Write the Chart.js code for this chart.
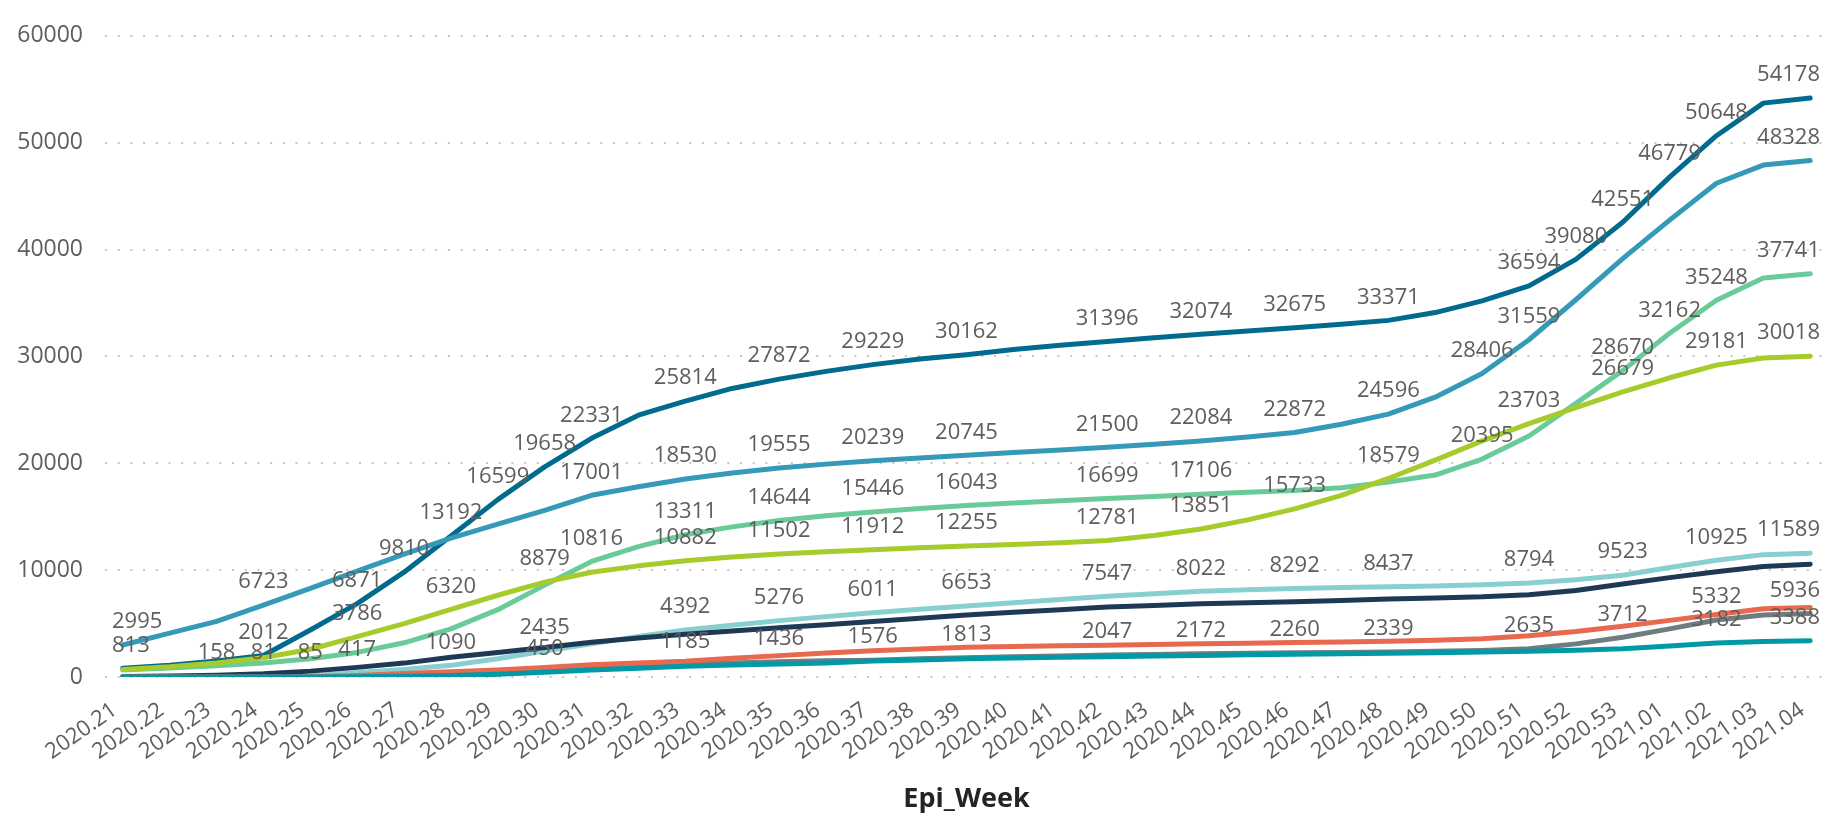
<!DOCTYPE html>
<html>
<head>
<meta charset="utf-8">
<title>Epi_Week</title>
<script src="https://cdn.jsdelivr.net/npm/chart.js@4.4.0/dist/chart.umd.min.js"></script>
<style>
  html, body { margin: 0; padding: 0; background: #fff; }
</style>
</head>
<body>
<canvas id="chart" width="1839" height="818"></canvas>
<script>
// ── Dados ──
const weeks = [
  '2020.21','2020.22','2020.23','2020.24','2020.25','2020.26','2020.27','2020.28','2020.29','2020.30',
  '2020.31','2020.32','2020.33','2020.34','2020.35','2020.36','2020.37','2020.38','2020.39','2020.40',
  '2020.41','2020.42','2020.43','2020.44','2020.45','2020.46','2020.47','2020.48','2020.49','2020.50',
  '2020.51','2020.52','2020.53','2021.01','2021.02','2021.03','2021.04'
];

const darkTeal = [813, 1100, 1500, 2012, 4400, 6871, 9810, 13192, 16599, 19658, 22331, 24500, 25814, 27000, 27872, 28600, 29229, 29750, 30162, 30650, 31050, 31396, 31750, 32074, 32380, 32675, 33000, 33371, 34100, 35200, 36594, 39080, 42551, 46779, 50648, 53700, 54178];
const blue     = [2995, 4100, 5200, 6723, 8300, 9900, 11500, 13000, 14300, 15600, 17001, 17800, 18530, 19080, 19555, 19920, 20239, 20500, 20745, 21000, 21250, 21500, 21780, 22084, 22450, 22872, 23650, 24596, 26180, 28406, 31559, 35300, 39150, 42750, 46200, 47900, 48328];
const green    = [650, 850, 1050, 1300, 1700, 2300, 3200, 4500, 6300, 8600, 10816, 12200, 13311, 14050, 14644, 15080, 15446, 15760, 16043, 16280, 16500, 16699, 16900, 17106, 17290, 17450, 17700, 18250, 18900, 20395, 22550, 25600, 28670, 32162, 35248, 37340, 37741];
const lime     = [700, 950, 1300, 1800, 2600, 3786, 5000, 6320, 7650, 8879, 9800, 10400, 10882, 11220, 11502, 11720, 11912, 12090, 12255, 12400, 12560, 12781, 13250, 13851, 14700, 15733, 17000, 18579, 20300, 22100, 23703, 25200, 26679, 28000, 29181, 29850, 30018];
const cyan     = [0, 20, 50, 81, 85, 417, 700, 1090, 1700, 2435, 3100, 3800, 4392, 4850, 5276, 5650, 6011, 6350, 6653, 6950, 7250, 7547, 7800, 8022, 8170, 8292, 8370, 8437, 8520, 8630, 8794, 9100, 9523, 10250, 10925, 11450, 11589];
const navy     = [50, 100, 158, 300, 550, 900, 1300, 1850, 2300, 2750, 3250, 3650, 4000, 4300, 4600, 4900, 5200, 5500, 5800, 6050, 6300, 6550, 6700, 6850, 6950, 7050, 7150, 7300, 7400, 7500, 7700, 8100, 8700, 9300, 9850, 10350, 10550];
const red      = [0, 0, 5, 10, 30, 150, 330, 480, 650, 900, 1150, 1320, 1480, 1750, 2000, 2250, 2450, 2620, 2780, 2850, 2920, 2980, 3040, 3100, 3160, 3220, 3280, 3340, 3430, 3580, 3850, 4250, 4750, 5300, 5850, 6380, 6514];
const gray     = [0, 0, 0, 5, 10, 25, 70, 160, 300, 520, 750, 980, 1185, 1320, 1436, 1510, 1576, 1700, 1813, 1890, 1970, 2047, 2110, 2172, 2220, 2260, 2300, 2339, 2400, 2480, 2635, 3100, 3712, 4500, 5332, 5800, 5936];
const teal     = [0, 0, 0, 5, 10, 20, 60, 130, 250, 450, 650, 830, 1000, 1120, 1220, 1320, 1500, 1600, 1700, 1770, 1840, 1900, 1960, 2020, 2080, 2130, 2180, 2230, 2280, 2330, 2400, 2500, 2650, 2900, 3182, 3330, 3388];

// pontos com rótulo visível (índice da semana)
const darkTealLabels = [0, 3, 5, 6, 7, 8, 9, 10, 12, 14, 16, 18, 21, 23, 25, 27, 30, 31, 32, 33, 34, 36];
const blueLabels     = [0, 3, 10, 12, 14, 16, 18, 21, 23, 25, 27, 29, 30, 36];
const greenLabels    = [10, 12, 14, 16, 18, 21, 23, 29, 32, 33, 34, 36];
const limeLabels     = [5, 7, 9, 12, 14, 16, 18, 21, 23, 25, 27, 30, 32, 34, 36];
const cyanLabels     = [3, 4, 5, 7, 9, 12, 14, 16, 18, 21, 23, 25, 27, 30, 32, 34, 36];
const navyLabels     = [2];
const redLabels      = [];
const grayLabels     = [12, 14, 16, 18, 21, 23, 25, 27, 30, 32, 34, 36];
const tealLabels     = [9, 34, 36];

const TEXT = '#605E5C';
const FONT = '"Open Sans", "Noto Sans", sans-serif';

function serie(values, color, labelAt) {
  return {
    data: values.map((v, i) => ({ x: i, y: v })),
    borderColor: color,
    backgroundColor: color,
    borderWidth: 5,
    borderCapStyle: 'round',
    borderJoinStyle: 'round',
    pointRadius: 0,
    tension: 0,
    labelAt,
  };
}

// ── Rótulos de dados ──
const valueLabels = {
  id: 'valueLabels',
  afterDatasetsDraw(chart) {
    const { ctx, chartArea } = chart;
    ctx.save();
    ctx.font = '22px ' + FONT;
    ctx.fillStyle = TEXT;
    ctx.textAlign = 'center';
    ctx.textBaseline = 'middle';
    chart.data.datasets.forEach((ds, d) => {
      const meta = chart.getDatasetMeta(d);
      ds.labelAt.forEach(i => {
        const pt   = meta.data[i];
        const text = String(ds.data[i].y);
        const half = ctx.measureText(text).width / 2;
        const x = Math.max(chartArea.left + 7 + half, Math.min(chartArea.right - 8 - half, pt.x));
        ctx.fillText(text, x, pt.y - 23);
      });
    });
    ctx.restore();
  }
};

new Chart(document.getElementById('chart'), {
  type: 'line',
  data: {
    datasets: [
      serie(teal,     '#009AA6', tealLabels),
      serie(red,      '#E8694F', redLabels),
      serie(gray,     '#6E7D7F', grayLabels),
      serie(navy,     '#1D3955', navyLabels),
      serie(cyan,     '#88D0D0', cyanLabels),
      serie(lime,     '#A7CB2B', limeLabels),
      serie(green,    '#69CC98', greenLabels),
      serie(blue,     '#3599B8', blueLabels),
      serie(darkTeal, '#006B8F', darkTealLabels),
    ],
  },
  options: {
    responsive: false,
    animation: false,
    layout: { padding: { top: 21, right: 11, left: 0, bottom: 0 } },
    plugins: { legend: { display: false }, tooltip: { enabled: false } },
    scales: {
      x: {
        type: 'linear',
        min: -0.38,
        max: weeks.length - 1 + 0.38,
        afterBuildTicks: s => { s.ticks = weeks.map((w, i) => ({ value: i })); },
        afterFit: s => { s.height = 141; },
        grid: { display: false },
        border: { display: false },
        ticks: {
          autoSkip: false,
          minRotation: 35,
          maxRotation: 35,
          padding: 12,
          labelOffset: -8,
          color: TEXT,
          font: { family: FONT, size: 22 },
          callback: v => weeks[v] ?? '',
        },
        title: {
          display: true,
          text: 'Epi_Week',
          color: '#252423',
          font: { family: FONT, size: 27, weight: 'bold' },
          padding: { top: 2, bottom: 2 },
        },
      },
      y: {
        min: 0,
        max: 60000,
        afterFit: s => { s.width = 105; },
        grid: { drawTicks: false, color: '#C8C6C4', lineWidth: 2 },
        border: { display: false, dash: [2, 10.7] },
        ticks: {
          stepSize: 10000,
          padding: 22,
          color: TEXT,
          font: { family: FONT, size: 23 },
          callback: v => String(v),
        },
      },
    },
  },
  plugins: [valueLabels],
});
</script>
</body>
</html>
